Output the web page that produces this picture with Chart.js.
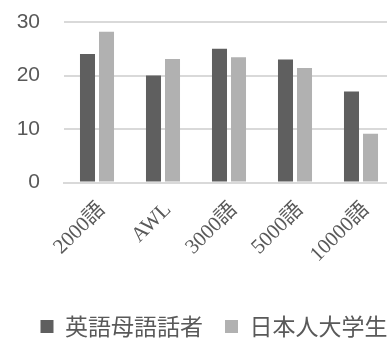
<!DOCTYPE html>
<html>
<head>
<meta charset="utf-8">
<script src="https://cdn.jsdelivr.net/npm/chart.js@4"></script>
<style>
  html, body { margin: 0; padding: 0; background: #fff; overflow: hidden; }
  #wrap { width: 394px; height: 343px; }
</style>
</head>
<body>
<div id="wrap"><canvas id="grafico"></canvas></div>
<script>
// dados
const categorias = ["2000語", "AWL", "3000語", "5000語", "10000語"];
const nomesSeries = ["英語母語話者", "日本人大学生"];
const nativos = [24, 20, 25, 23, 17];
const japoneses = [28.2, 23.1, 23.4, 21.4, 9.1];
const ticksY = [0, 10, 20, 30];

const corEscura = "#5f5f5f";
const corClara = "#b1b1b1";
const corTexto = "#595959";

// desloca a legenda para a posição do original
const ajusteLegenda = {
  id: "ajusteLegenda",
  afterLayout(chart) {
    const lg = chart.legend;
    if (!lg) return;
    lg.left += 17;
    lg.right += 17;
    lg.top += 5;
    lg.bottom += 5;
  }
};

new Chart(document.getElementById("grafico"), {
  type: "bar",
  data: {
    labels: categorias,
    datasets: [
      { label: nomesSeries[0], data: nativos, backgroundColor: corEscura },
      { label: nomesSeries[1], data: japoneses, backgroundColor: corClara }
    ]
  },
  plugins: [ajusteLegenda],
  options: {
    responsive: true,
    maintainAspectRatio: false,
    animation: false,
    layout: { padding: { left: 0, right: 0, top: 22, bottom: 0 } },
    datasets: { bar: { categoryPercentage: 0.576, barPercentage: 0.79 } },
    plugins: {
      tooltip: { enabled: false },
      legend: {
        position: "bottom",
        labels: {
          color: corTexto,
          boxWidth: 13,
          boxHeight: 13,
          padding: 22,
          font: { family: "'Noto Sans CJK JP', sans-serif", size: 23 }
        }
      }
    },
    scales: {
      x: {
        grid: { display: false, drawTicks: false },
        border: { color: "#d9d9d9", width: 2 },
        ticks: {
          color: corTexto,
          autoSkip: false,
          maxRotation: 45,
          minRotation: 45,
          padding: 15,
          labelOffset: 5,
          font: { family: "'Liberation Serif', 'Noto Sans CJK JP', serif", size: 21 }
        },
        afterFit: s => { s.height = 105.5; }
      },
      y: {
        min: 0,
        max: 30,
        afterBuildTicks: s => { s.ticks = ticksY.map(v => ({ value: v })); },
        grid: { color: "#d9d9d9", lineWidth: 2, drawTicks: false },
        border: { display: false },
        ticks: {
          color: corTexto,
          padding: 24,
          font: { family: "'Liberation Sans', Arial, sans-serif", size: 21 }
        },
        afterFit: s => {
          s.width = 64;
          // o padding do tick não deve empurrar a área do gráfico
          s.paddingTop = 0;
          s.paddingBottom = 0;
        }
      }
    }
  }
});
</script>
</body>
</html>
